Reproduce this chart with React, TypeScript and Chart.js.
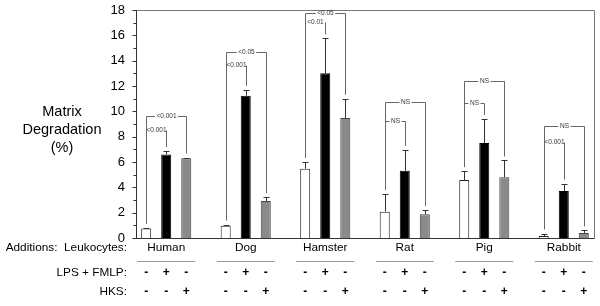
import React, { useEffect, useRef } from "react";
import { Chart, registerables } from "chart.js";

Chart.register(...registerables);

// ---- data ----
const species = ["Human", "Dog", "Hamster", "Rat", "Pig", "Rabbit"];
const leukocytesOnly = [0.75, 0.97, 5.47, 2.08, 4.58, 0.15];
const leukocytesOnlyErr = [0.05, 0.08, 0.53, 1.39, 0.7, 0.2];
const withLpsFmlp = [6.6, 11.23, 13.0, 5.3, 7.5, 3.72];
const withLpsFmlpErr = [0.27, 0.47, 2.76, 1.65, 1.9, 0.58];
const withHks = [6.29, 2.92, 9.47, 1.87, 4.79, 0.4];
const withHksErr = [0.06, 0.3, 1.53, 0.33, 1.33, 0.2];

const innerBracketLabels = ["<0.001", "<0.001", "<0.01", "NS", "NS", "<0.001"];
const innerBracketHeights = [8.5, 13.62, 17.07, 9.25, 10.65, 7.58];
const outerBracketLabels = ["<0.001", "<0.05", "<0.05", "NS", "NS", "NS"];
const outerBracketHeights = [9.6, 14.7, 17.73, 10.7, 12.4, 8.88];

const lpsFmlpSigns = ["-", "+", "-"];
const hksSigns = ["-", "-", "+"];

const yTitleLines = ["Matrix", "Degradation", "(%)"];
const yMin = 0;
const yMax = 18;

const FONT = "'Liberation Sans', Arial, Helvetica, sans-serif";

const overlayPlugin = {
  id: "overlay",
  afterDatasetsDraw(chart: any) {
    const ctx = chart.ctx;
    const ys = chart.scales.y;
    const xs = chart.scales.x;
    const area = chart.chartArea;
    const metas = [0, 1, 2].map((d) => chart.getDatasetMeta(d));
    const vals = [leukocytesOnly, withLpsFmlp, withHks];
    const errs = [leukocytesOnlyErr, withLpsFmlpErr, withHksErr];
    const px = (v: number) => Math.round(v) + 0.5;

    ctx.save();
    // frame top and right
    ctx.strokeStyle = "#777";
    ctx.lineWidth = 1;
    ctx.beginPath();
    ctx.moveTo(px(area.left), px(area.top));
    ctx.lineTo(px(area.right), px(area.top));
    ctx.lineTo(px(area.right), px(area.bottom));
    ctx.stroke();
    // bottom axis
    ctx.strokeStyle = "#333";
    ctx.beginPath();
    ctx.moveTo(px(area.left), px(area.bottom));
    ctx.lineTo(px(area.right), px(area.bottom));
    ctx.stroke();
    // y ticks
    ctx.strokeStyle = "#333";
    for (let v = yMin; v <= yMax; v++) {
      const y = px(ys.getPixelForValue(v));
      const len = v % 2 === 0 ? 4 : 3;
      ctx.beginPath();
      ctx.moveTo(px(area.left) - len, y);
      ctx.lineTo(px(area.left), y);
      ctx.stroke();
    }

    // error bars
    ctx.strokeStyle = "#333";
    for (let d = 0; d < 3; d++) {
      metas[d].data.forEach((el: any, i: number) => {
        const x = px(el.x);
        const yTop = ys.getPixelForValue(vals[d][i]);
        const yCap = px(ys.getPixelForValue(vals[d][i] + errs[d][i]));
        ctx.beginPath();
        ctx.moveTo(x, yTop);
        ctx.lineTo(x, yCap);
        ctx.moveTo(x - 3, yCap);
        ctx.lineTo(x + 3, yCap);
        ctx.stroke();
      });
    }

    // significance brackets
    const gap = 4;
    ctx.font = `6.5px ${FONT}`;
    ctx.textAlign = "center";
    ctx.textBaseline = "middle";
    const hLine = (x1: number, x2: number, y: number, label: string) => {
      const cx = (x1 + x2) / 2;
      const tw = ctx.measureText(label).width;
      ctx.beginPath();
      const a = cx - tw / 2 - 1.5;
      const b = cx + tw / 2 + 1.5;
      if (a > x1) {
        ctx.moveTo(x1, y);
        ctx.lineTo(a, y);
      }
      if (b < x2) {
        ctx.moveTo(b, y);
        ctx.lineTo(x2, y);
      }
      ctx.stroke();
      ctx.fillStyle = "#333";
      ctx.fillText(label, cx, y);
    };
    species.forEach((_, g) => {
      const xw = px(metas[0].data[g].x);
      const xb = px(metas[1].data[g].x);
      const xg = px(metas[2].data[g].x);
      const capW = ys.getPixelForValue(leukocytesOnly[g] + leukocytesOnlyErr[g]);
      const capB = ys.getPixelForValue(withLpsFmlp[g] + withLpsFmlpErr[g]);
      const capG = ys.getPixelForValue(withHks[g] + withHksErr[g]);
      const yo = px(ys.getPixelForValue(outerBracketHeights[g]));
      const yi = px(ys.getPixelForValue(innerBracketHeights[g]));
      ctx.strokeStyle = "#666";
      ctx.lineWidth = 1;
      ctx.beginPath();
      ctx.moveTo(xw, yo);
      ctx.lineTo(xw, capW - gap);
      ctx.moveTo(xg, yo);
      ctx.lineTo(xg, capG - gap);
      ctx.moveTo(xb, yi);
      ctx.lineTo(xb, capB - gap);
      ctx.stroke();
      hLine(xw, xg, yo, outerBracketLabels[g]);
      hLine(xw, xb, yi, innerBracketLabels[g]);
    });

    // y title
    ctx.fillStyle = "#000";
    ctx.font = `14.5px ${FONT}`;
    ctx.textAlign = "center";
    ctx.textBaseline = "middle";
    yTitleLines.forEach((t, i) => ctx.fillText(t, 62, 112 + i * 18));

    // bottom table
    const rowSpecies = 248;
    const rowLps = 273;
    const rowHks = 292;
    ctx.font = `11.8px ${FONT}`;
    ctx.fillStyle = "#000";
    ctx.textAlign = "right";
    ctx.fillText("Additions:  Leukocytes:", 127, rowSpecies);
    ctx.fillText("LPS + FMLP:", 127, rowLps);
    ctx.fillText("HKS:", 127, rowHks);
    ctx.textAlign = "center";
    species.forEach((name, g) => {
      const cx = xs.getPixelForValue(g + 1);
      ctx.fillStyle = "#000";
      ctx.fillText(name, cx, rowSpecies);
      ctx.strokeStyle = "#999";
      ctx.beginPath();
      ctx.moveTo(cx - 29, 261.5);
      ctx.lineTo(cx + 29, 261.5);
      ctx.stroke();
      ctx.font = `bold 12px ${FONT}`;
      for (let d = 0; d < 3; d++) {
        const bx = metas[d].data[g].x;
        ctx.fillText(lpsFmlpSigns[d], bx, rowLps);
        ctx.fillText(hksSigns[d], bx, rowHks);
      }
      ctx.font = `11.8px ${FONT}`;
    });
    ctx.restore();
  },
};

export default function App() {
  const ref = useRef<HTMLCanvasElement>(null);
  useEffect(() => {
    document.body.style.margin = "0";
    const toPts = (arr: number[]) => arr.map((v, i) => ({ x: i + 1, y: v }));
    const chart = new Chart(ref.current as HTMLCanvasElement, {
      type: "bar",
      data: {
        datasets: [
          {
            label: "Leukocytes",
            data: toPts(leukocytesOnly),
            backgroundColor: "#ffffff",
            borderColor: "#222",
            borderWidth: 1,
          },
          {
            label: "Leukocytes + LPS + FMLP",
            data: toPts(withLpsFmlp),
            backgroundColor: "#000000",
            borderColor: "#000",
            borderWidth: 1,
          },
          {
            label: "Leukocytes + HKS",
            data: toPts(withHks),
            backgroundColor: "#8a8a8a",
            borderColor: "#444",
            borderWidth: 1,
          },
        ] as any,
      },
      options: {
        animation: false,
        responsive: false,
        devicePixelRatio: 1,
        layout: { padding: { left: 0, right: 6, top: 10, bottom: 68 } },
        datasets: { bar: { categoryPercentage: 0.756, barPercentage: 0.5 } } as any,
        plugins: { legend: { display: false }, tooltip: { enabled: false } },
        scales: {
          x: { type: "linear", min: 0.62, max: 6.38, display: false, offset: false },
          y: {
            min: yMin,
            max: yMax,
            afterFit: (s: any) => {
              s.width = 136;
              s.paddingTop = 0;
              s.paddingBottom = 0;
            },
            grid: { display: false, drawTicks: false },
            border: { display: true, color: "#333" },
            ticks: {
              stepSize: 1,
              autoSkip: false,
              padding: 11,
              color: "#000",
              font: { family: FONT, size: 13 },
              callback: (v: any) => (Number(v) % 2 === 0 ? String(v) : ""),
            },
          },
        } as any,
      },
      plugins: [overlayPlugin],
    });
    return () => chart.destroy();
  }, []);
  return (
    <div style={{ position: "fixed", left: 0, top: 0, width: 600, height: 306 }}>
      <canvas ref={ref} width={600} height={306} />
    </div>
  );
}
